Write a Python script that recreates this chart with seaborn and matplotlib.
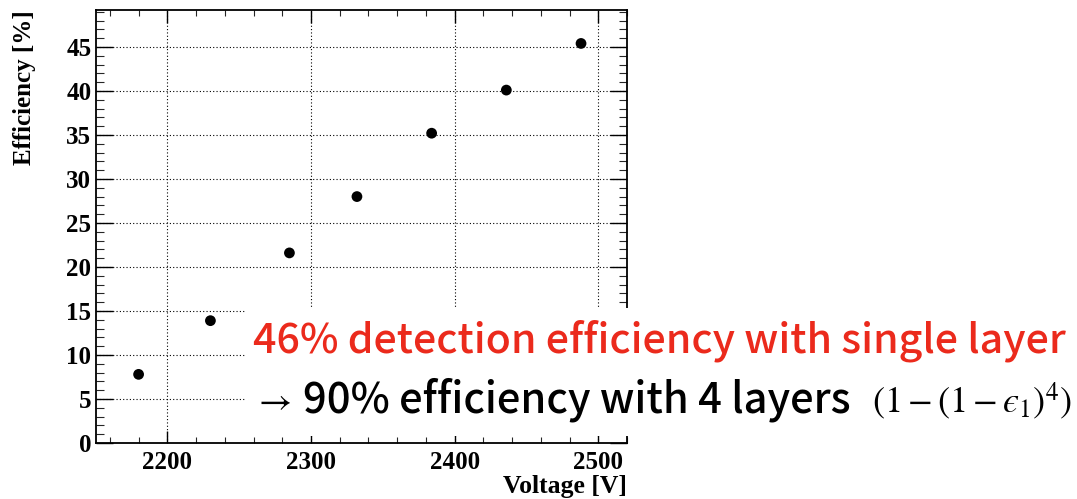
import matplotlib
matplotlib.use("Agg")
import matplotlib.pyplot as plt
from matplotlib.patches import Rectangle
from matplotlib.ticker import MultipleLocator
import seaborn as sns
import pandas as pd

voltage = [2180, 2230, 2285, 2332, 2384, 2436, 2488]
efficiency = [7.8, 13.9, 21.6, 28.0, 35.2, 40.1, 45.4]
x_ticks = [2200, 2300, 2400, 2500]
y_ticks = [0, 5, 10, 15, 20, 25, 30, 35, 40, 45]
x_label = "Voltage [V]"
y_label = "Efficiency [%]"
line1 = "46% detection efficiency with single layer"
line2 = "90% efficiency with 4 layers"
formula = "$(1-(1-\u03f5_1)^4)$"

df = pd.DataFrame({"Voltage": voltage, "Efficiency": efficiency})

sns.set_theme(style="white")
plt.rcParams["font.family"] = ["Liberation Serif", "DejaVu Serif"]
plt.rcParams["mathtext.fontset"] = "stix"

W, H = 1077, 499
fig = plt.figure(figsize=(W / 100, H / 100), dpi=100)
ax = fig.add_axes([95.5 / W, 1 - 443 / H, (627 - 95.5) / W, (443 - 10) / H])

sns.scatterplot(data=df, x="Voltage", y="Efficiency", ax=ax, color="black",
                s=60, edgecolor="none", zorder=3, legend=False)

ax.set_xlim(2150, 2520)
ax.set_ylim(0, 49.2)
ax.set_xticks(x_ticks)
ax.set_yticks(y_ticks)
ax.xaxis.set_minor_locator(MultipleLocator(20))
ax.yaxis.set_minor_locator(MultipleLocator(1))
ax.grid(True, which="major", color="black", linestyle=(0, (1, 2)), linewidth=0.8)
ax.set_axisbelow(True)

ax.tick_params(axis="x", which="major", direction="in", length=9, width=1.0,
               top=True, bottom=True, pad=6, labelsize=18, colors="black")
ax.tick_params(axis="x", which="minor", direction="in", length=4.5, width=0.8,
               top=True, bottom=True)
ax.tick_params(axis="y", which="major", direction="in", length=12, width=1.0,
               left=True, right=True, pad=3, labelsize=18, colors="black")
ax.tick_params(axis="y", which="minor", direction="in", length=6, width=0.8,
               left=True, right=True)
for lab in ax.get_xticklabels() + ax.get_yticklabels():
    lab.set_fontweight("bold")
for sp in ax.spines.values():
    sp.set_color("black")
    sp.set_linewidth(1.3)

ax.set_xlabel(x_label, fontsize=18.5, fontweight="bold", loc="right", color="black")
ax.xaxis.set_label_coords(1.0, (443 - 486) / 433)
ax.xaxis.label.set_verticalalignment("center")
ax.set_ylabel(y_label, fontsize=18, fontweight="bold", loc="top", color="black")
ax.yaxis.set_label_coords((25 - 95.5) / 531.5, 1.0)
ax.yaxis.label.set_verticalalignment("center")

# white overlay box with annotation text
fig.patches.append(Rectangle((245 / W, 1 - 436 / H), 1 - 245 / W, (436 - 308) / H,
                             transform=fig.transFigure, facecolor="white",
                             edgecolor="none", zorder=5))
sans = ["Noto Sans CJK JP", "DejaVu Sans"]
fig.text(253 / W, 1 - 352 / H, line1, color="#EB2A1C", fontsize=29.6,
         family=sans, fontweight="medium", va="baseline", ha="left", zorder=6)
fig.text(253 / W, 1 - 410 / H, r"$\rightarrow$", color="black", fontsize=26,
         va="baseline", ha="left", zorder=6)
fig.text(303 / W, 1 - 413 / H, line2, color="black", fontsize=30,
         family=sans, fontweight="medium", va="baseline", ha="left", zorder=6)
fig.text(872 / W, 1 - 413 / H, formula, color="black", fontsize=26,
         va="baseline", ha="left", zorder=6)

fig.savefig("out.png", dpi=100)
